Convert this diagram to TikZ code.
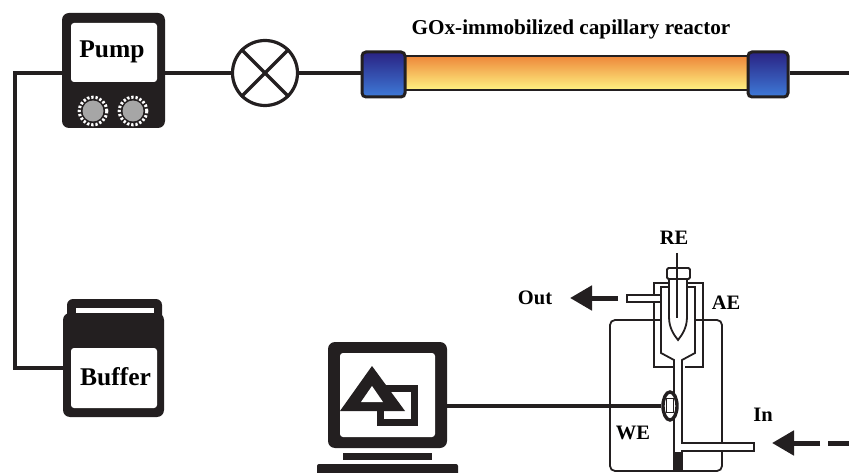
\documentclass[tikz,border=0pt]{standalone}
\usepackage{fontspec}
\setmainfont{Liberation Serif}
\usetikzlibrary{arrows.meta,shapes.geometric,calc}
\definecolor{ink}{HTML}{231F20}
\definecolor{capTop}{HTML}{2A2383}
\definecolor{capBot}{HTML}{3E7AD8}
\definecolor{tubeTop}{HTML}{EE873A}
\definecolor{tubeBot}{HTML}{FFF382}
\definecolor{dial}{HTML}{A6A6A6}
\tikzset{
  pipe/.style={line width=3.4pt, draw=ink},
  darkbox/.style={fill=ink, rounded corners=7pt, inner sep=0pt, outer sep=0pt},
  panel/.style={fill=white, rounded corners=3pt, inner sep=0pt, outer sep=0pt},
  bigtxt/.style={font=\fontsize{25.5}{25.5}\selectfont\bfseries, inner sep=0pt, anchor=base},
  lbl/.style={font=\fontsize{20.5}{20.5}\selectfont\bfseries, inner sep=0pt, anchor=base},
  endcap/.style={draw=ink, line width=3pt, rounded corners=4pt, top color=capTop,
    bottom color=capBot, inner sep=0pt, minimum height=45pt},
  glass/.style={line width=1.8pt, draw=ink},
  flowarrow/.style={line width=5pt, draw=ink, -{Triangle[length=22pt,width=24pt]}},
}
\begin{document}
\begin{tikzpicture}[x=1pt,y=-1pt]
\useasboundingbox (0,0) rectangle (849,473);

% ---- pump ----
\node[darkbox, minimum width=103pt, minimum height=115pt] (pump) at (113.5,70.5) {};
\node[panel, minimum width=86pt, minimum height=59pt] (pumpscr) at (114,52.5) {};
\node[bigtxt] (pumptxt) at (112,58) {Pump};
\foreach \x in {93,133}{
  \fill[dial] (\x,111) circle (10.5pt);
  \draw[white, line width=3pt, dash pattern=on 2.3pt off 1.9pt] (\x,111) circle (13.8pt);
}

% ---- injection valve ----
\node[circle, draw=ink, line width=3.2pt, minimum size=65pt, inner sep=0pt] (valve) at (265,73) {};
\draw[pipe] (valve.north west) -- (valve.south east);
\draw[pipe] (valve.north east) -- (valve.south west);

% ---- capillary reactor ----
\node[draw=ink, line width=2.5pt, top color=tubeTop, bottom color=tubeBot,
  minimum width=345pt, minimum height=34pt, inner sep=0pt] (reactor) at (576.5,73) {};
\node[endcap, minimum width=43pt] (capL) at (383.5,74.5) {};
\node[endcap, minimum width=40pt] (capR) at (768,74.5) {};
\node[font=\fontsize{21.2}{21.2}\selectfont\bfseries, inner sep=0pt, anchor=base] (title) at (571,35)
  {GOx-immobilized capillary reactor};

% ---- buffer bottle ----
\fill[ink, rounded corners=6pt] (67,299) rectangle (162,324);
\node[darkbox, minimum width=101pt, minimum height=104pt] (buffer) at (113.5,365) {};
\fill[white] (76,308) rectangle (154,313);
\node[panel, minimum width=86pt, minimum height=60pt] (bufscr) at (114,378) {};
\node[bigtxt] (buftxt) at (115.5,385) {Buffer};

% ---- tubing ----
\coordinate (bufin) at (63,368);
\coordinate (exit) at (849,73);
\draw[pipe] (pump.east |- valve) -- (valve.west);
\draw[pipe] (pump.west |- valve) -| (15,368) -- (bufin);
\draw[pipe] (valve.east) -- (valve.east -| capL.west);
\draw[pipe] (capR.east |- exit) -- (exit);

% ---- computer ----
\node[darkbox, minimum width=119pt, minimum height=106pt] (pc) at (387.5,395) {};
\node[panel, minimum width=95pt, minimum height=84pt] (pcscr) at (387.5,395) {};
\fill[ink] (343,453) rectangle (432,460);
\fill[ink, rounded corners=2pt] (317,464) rectangle (458,480);
\draw[ink, line width=7pt] (380.5,388.5) rectangle (414.5,422.5);
\fill[ink] (372,366) -- (405,411) -- (340,411) -- cycle;
\fill[white] (372,386) -- (383,402) -- (361,402) -- cycle;

% ---- flow cell ----
\draw[glass, rounded corners=5pt] (610,320) rectangle (722,471);
% auxiliary electrode chamber
\draw[glass] (674,367) -- (654,367) -- (654,283) -- (703,283) -- (703,367) -- (682,367);
\fill[white] (661,287) -- (695,287) -- (695,353) -- (682,360) -- (682,452)
  -- (674,452) -- (674,360) -- (661,353) -- cycle;
\draw[glass] (669,287) -- (661,287) -- (661,353) -- (674,360) -- (674,471);
\draw[glass, fill=white] (687,287) -- (695,287) -- (695,353) -- (682,360) -- (682,443)
  -- (754,443) -- (754,451) -- (682,451) -- (682,471);
\fill[ink] (674,452) rectangle (682,471);
% outlet tube
\draw[glass, fill=white] (627,295) rectangle (661,302);
% reference electrode
\draw[glass, fill=white] (669,279) -- (669,317) .. controls (669,329) and (675,336) .. (678,340)
  .. controls (681,336) and (687,329) .. (687,317) -- (687,279);
\draw[glass, fill=white, rounded corners=1.5pt] (667,268) rectangle (690,279);
\draw[ink, line width=1.2pt] (677,253) -- (677,318);
% working electrode
\node[ellipse, draw=ink, line width=3.4pt, fill=white, minimum width=14pt, minimum height=28pt,
  inner sep=0pt] (ring) at (670,406) {};
\draw[ink, line width=1.5pt] (666.5,398.5) rectangle (673.5,412.5);
\draw[pipe] (ring.west -| pc.east) -- (ring.west);

% ---- flow arrows ----
\coordinate (outtail) at (618,298);
\coordinate (outtip) at (570,298);
\draw[flowarrow] (outtail) -- (outtip);
\coordinate (indash) at (849,443);
\coordinate (indashend) at (828,443);
\coordinate (intail) at (820,443);
\coordinate (intip) at (772,443);
\draw[line width=5pt, draw=ink] (indash) -- (indashend);
\draw[flowarrow] (intail) -- (intip);

% ---- labels ----
\node[lbl] (re) at (674,245) {RE};
\node[lbl] (out) at (535,304) {Out};
\node[lbl] (ae) at (726,309) {AE};
\node[lbl] (in) at (763,421) {In};
\node[lbl] (we) at (633,439) {WE};
\end{tikzpicture}
\end{document}
